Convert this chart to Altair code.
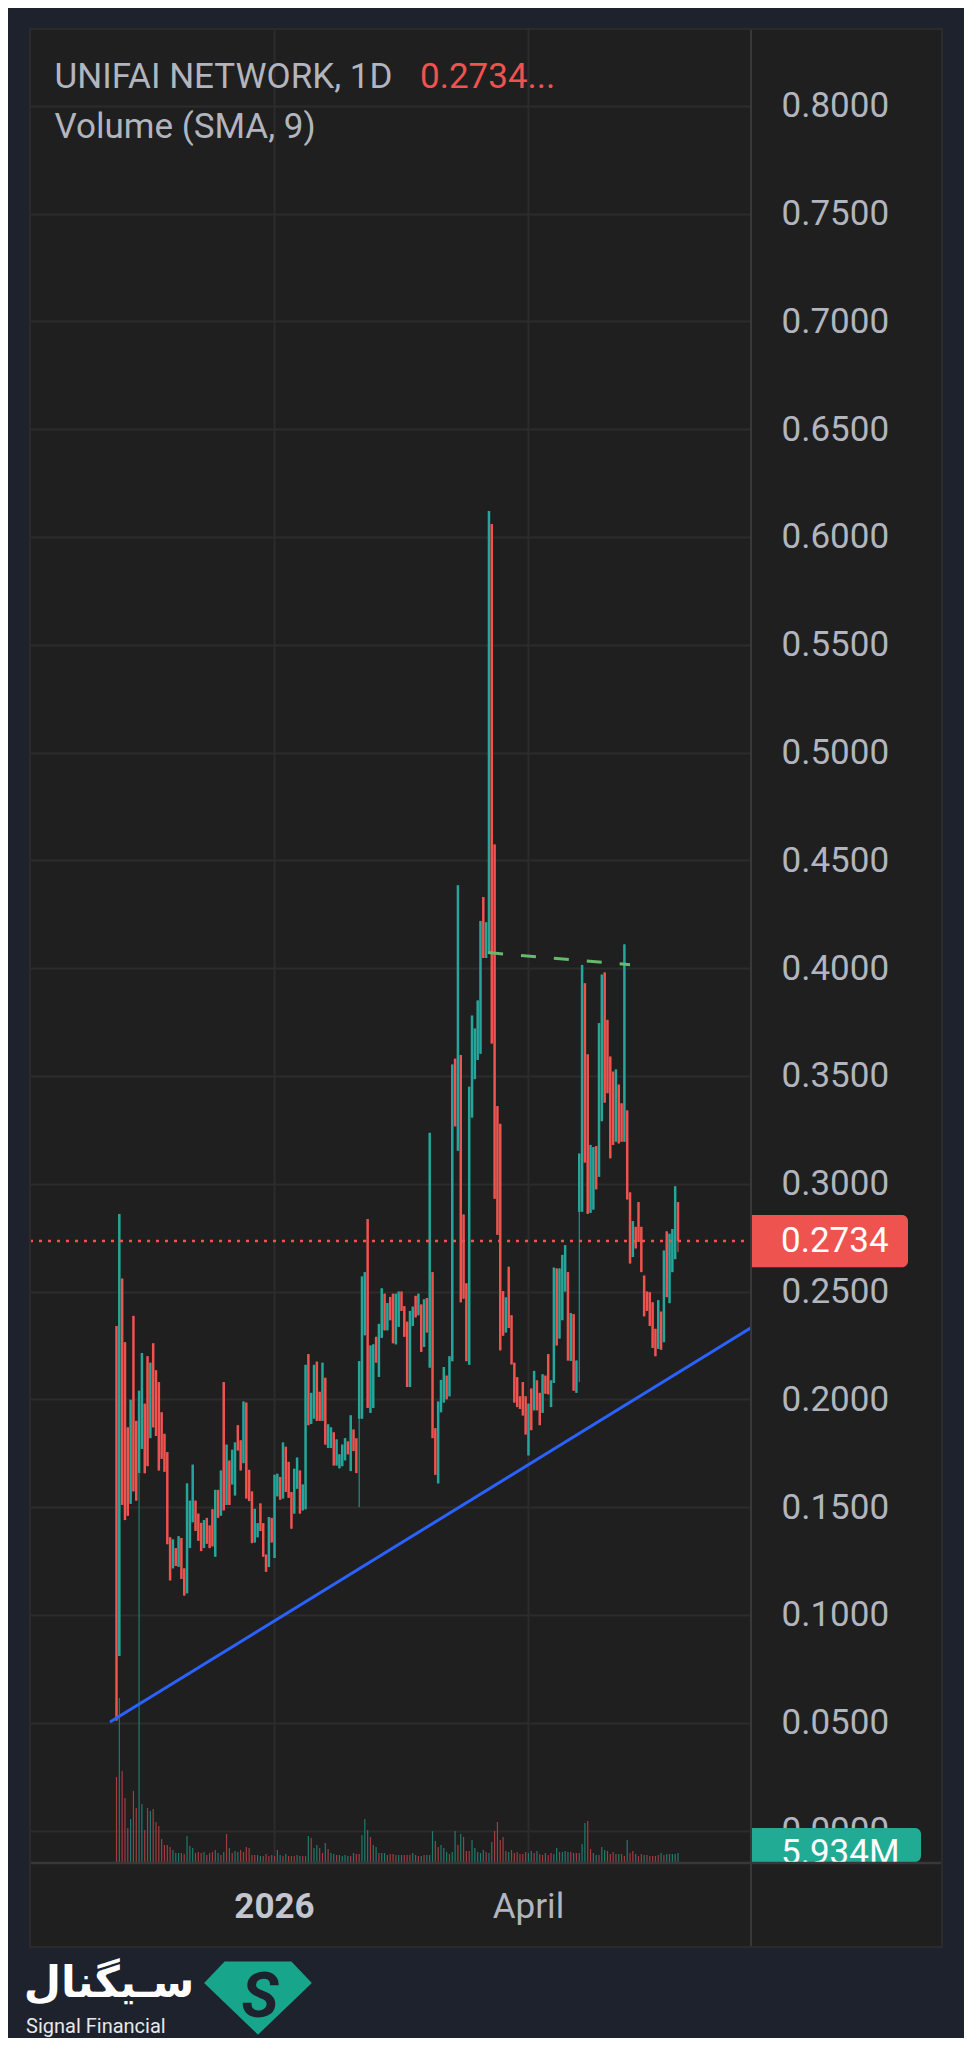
import altair as alt
import pandas as pd

# ---------------- data (daily candles) ----------------
up_1 = [0,1,0,0,0,1,0,0,1,1,0,0,1,0,0,0,0,0,0,0,1,0,1,0,0,1,1,1,0,0,0,1,0,0,0,1,0]
top_1 = [.234,.286,.256,.2265,.187,.1998,.2387,.19,.204,.2215,.198,.220,.217,.226,.2135,.208,.194,.184,.1755,.136,
         .135,.131,.1365,.1357,.1216,.161,.153,.1697,.153,.147,.1427,.144,.145,.1415,.149,.158,.158]
bot_1 = [.051,.081,.151,.144,.146,.1515,.1573,.153,.1657,.177,.1657,.169,.182,.187,.183,.167,.1724,.1664,.1328,.116,
         .1216,.1227,.1223,.1167,.109,.110,.131,.143,.139,.1344,.1296,.131,.133,.131,.1318,.127,.145]

up_2 = [1,0,1,0,1,1,0,0,1,0,0,0,1,1,0,0,0,1,0,1,1,0,1,0,0,0,1,1,0,1,1,0,1,1,0,0,1]
top_2 = [.167,.208,.179,.1716,.1766,.18,.188,.181,.199,.1985,.1673,.1573,.1492,.1426,.1517,.1426,.128,.1454,.145,.165,
         .1655,.164,.180,.178,.171,.157,.1678,.173,.167,.1605,.216,.221,.203,.216,.2175,.2035,.217]
bot_2 = [.146,.1485,.151,.151,.1605,.1554,.1763,.167,.1704,.154,.1528,.1333,.1336,.136,.1389,.127,.120,.1222,.1336,.1264,
         .155,.1534,.154,.157,.1543,.140,.147,.1585,.147,.1485,.149,.188,.1886,.191,.19,.19,.19]

up_3 = [0,1,1,0,1,1,1,1,0,1,0,0,1,1,1,0,1,1,0,1,1,0,1,0,0,1,1,0,0,0,1,1,0,1,0,1,0]
top_3 = [.21,.1884,.187,.1847,.1814,.1745,.179,.182,.1805,.1926,.186,.1819,.2177,.257,.259,.2836,.225,.2255,.229,.235,
         .2515,.249,.2447,.2475,.249,.249,.250,.250,.2432,.236,.241,.243,.248,.249,.244,.2464,.247]
bot_3 = [.179,.1774,.1774,.1693,.1693,.168,.169,.1717,.1745,.1667,.176,.1658,.191,.191,.2297,.196,.1937,.196,.217,.2104,
         .2285,.232,.232,.2367,.226,.2255,.2336,.241,.229,.2057,.2057,.234,.238,.239,.222,.2243,.231]

up_4 = [1,0,0,1,1,1,0,1,1,0,1,0,0,0,1,1,1,1,1,0,1,1,0,0,0,0,0,1,0,0,0,0,0,0,0,1,0]
top_4 = [.3236,.259,.1866,.199,.209,.215,.211,.22,.3553,.358,.4384,.3597,.2857,.2538,.345,.378,.372,.385,.4219,.433,
         .4213,.612,.606,.4574,.336,.3278,.2502,.2473,.2615,.239,.217,.2103,.2014,.208,.2014,.198,.205]
bot_4 = [.2147,.182,.165,.161,.194,.1985,.20,.2014,.2177,.3266,.3153,.245,.2467,.2177,.216,.3307,.3485,.3574,.3603,.4047,
         .4047,.4065,.365,.293,.2763,.2227,.2295,.231,.2331,.2162,.1985,.1964,.1955,.1925,.1837,.174,.1857]

up_5 = [1,0,0,1,0,0,1,1,0,1,1,1,0,1,0,1,1,1,0,0,1,1,0,1,1,0,0,0,0,1,0,0,1,0,0,1,0,0,0,0,0,0,0,0,1,0,1,0,1,1,1,0]
top_5 = [.2132,.2088,.203,.2116,.211,.221,.2088,.2611,.2607,.2607,.267,.2715,.259,.240,.2395,.218,.314,.4015,.393,.360,
         .318,.317,.3175,.3745,.397,.398,.376,.359,.352,.353,.346,.3373,.411,.334,.296,.2827,.280,.2915,.280,.2574,
         .250,.2497,.245,.2327,.246,.2407,.269,.2779,.2768,.279,.2988,.2915]
bot_5 = [.1949,.1949,.188,.1937,.2026,.2023,.1964,.2076,.225,.2282,.2367,.25,.218,.2178,.204,.203,.287,.287,.3098,.286,
         .2865,.288,.2974,.3032,.329,.3376,.342,.3118,.318,.3195,.3187,.3195,.3195,.2927,.263,.266,.27,.273,.259,.2385,
         .241,.234,.2238,.22,.2234,.223,.2265,.2474,.2446,.259,.265,.2734]

wick_low = {86: 0.150, 164: 0.208, 199: 0.2683}

# volume (millions) and its direction
vol_1 = [56.0,108.1,60.0,42.2,22.4,28.3,46.8,35.6,255.8,38.2,
         21.1,35.6,33.6,34.9,26.4,23.7,15.2,11.2,11.2,9.89,
         7.91,5.93,5.93,5.93,5.27,17.1,10.5,9.23,5.93,6.59,
         5.93,6.59,4.62,5.93,6.59,7.91,5.93,4.62,6.59,18.5,
         9.23,5.93,7.25,6.59,7.91,6.59,9.89,9.23,4.62,4.62,
         4.62,3.96,3.96,5.27,3.96,4.62,3.96,7.91,4.62,3.96,
         5.27,3.96,3.96,3.96,4.62,3.96,3.96,3.96,17.1,15.8,
         9.23,11.2,9.23,5.93,12.5,8.57,5.93,5.27,4.62,4.62,
         3.96,4.62,3.96,3.96,5.93,5.27,5.27,17.8,28.3,21.1,
         16.5,11.2,9.89,5.93,5.93,5.93,4.62,5.27,5.27,4.62]
vol_2 = [4.62,4.62,4.62,4.62,4.62,5.93,4.62,3.96,3.96,4.62,
         4.62,4.62,20.4,13.8,9.89,11.2,9.23,6.59,5.27,6.59,
         20.4,11.2,18.5,16.5,7.25,7.25,14.5,9.23,6.59,5.93,
         7.91,6.59,5.93,13.2,20.4,26.4,14.5,16.5,7.25,6.59,
         7.91,5.93,6.59,5.27,5.27,6.59,5.93,7.25,5.93,7.25,
         5.27,4.62,5.93,4.62,5.93,5.27,9.23,6.59,6.59,7.25,
         6.59,6.59,5.93,5.93,5.93,11.9,25.7,27.0,8.57,5.93,
         4.62,4.62,9.89,7.91,7.25,5.27,6.59,5.27,5.27,5.27,
         3.96,14.5,5.93,7.25,5.27,3.96,5.27,4.62,4.62,3.96,
         3.96,3.96,4.62,5.93,4.62,5.27,5.27,5.27,5.27,5.934]
vol_up_1 = [0,1,0,0,0,1,0,0,1,1, 0,0,1,0,0,0,0,0,0,0, 1,1,1,0,0,1,1,1,0,0, 0,1,0,0,0,1,1,0,1,0,
            1,0,1,1,0,0,0,0,0,0, 1,1,0,0,0,1,0,1,1,0, 1,0,0,0,1,1,0,0,1,0, 1,1,0,0,1,0,1,1,0,1,
            1,1,1,0,1,0,0,1,1,1, 0,1,1,0,1,1,0,0,0,0]
vol_up_2 = [1,1,0,0,0,1,1,0,1,0, 1,1,1,0,0,1,1,1,0,1, 1,0,1,0,0,0,1,1,1,1, 1,0,1,1,0,0,0,0,0,1,
            0,0,0,0,0,0,1,1,0,1, 0,0,1,0,0,1,1,0,1,1, 1,0,1,0,1,1,1,0,0,1, 1,0,1,1,0,0,0,0,1,0,
            0,1,0,0,1,0,0,1,0,0, 0,0,0,1,0,1,1,1,1,1]

trend_idx = [-2.3, 225.3]
trend_price = [0.0503, 0.2336]
res_idx = [131.7, 182.0]
res_price = [0.4072, 0.4016]

price_ticks = [0.0, 0.05, 0.1, 0.15, 0.2, 0.25, 0.3, 0.35, 0.4, 0.45, 0.5, 0.55, 0.6, 0.65, 0.7, 0.75, 0.8]
time_ticks = [56, 146]
time_labels = ["2026", "April"]
time_bold = [1, 0]

# ---------------- build tables ----------------
up = up_1 + up_2 + up_3 + up_4 + up_5
top = top_1 + top_2 + top_3 + top_4 + top_5
bot = bot_1 + bot_2 + bot_3 + bot_4 + bot_5
rows = []
for i in range(len(up)):
    o, c = (bot[i], top[i]) if up[i] else (top[i], bot[i])
    rows.append({"idx": i, "o": o, "c": c, "hi": top[i], "lo": wick_low.get(i, bot[i]), "up": up[i]})
cdf = pd.DataFrame(rows)
last_price = cdf["c"].iloc[-1]

vol = vol_1 + vol_2
vol_up = vol_up_1 + vol_up_2
vdf = pd.DataFrame({"idx": list(range(len(vol))), "v": vol, "up": vol_up})
last_vol = vol[-1]

tdf = pd.DataFrame({"t": time_ticks, "lab": time_labels, "bold": time_bold})

# ---------------- style ----------------
W, H = 721, 1833
X_DOMAIN = [-30.66, 224.87]
P_DOMAIN = [-0.0146, 0.8356]
V_DOMAIN = [0, 1208.5]
UP, DOWN = "#26a69a", "#ef5350"
VUP, VDOWN = "#1f7a6f", "#a23d3f"
TXT = "#b2b5be"
GRID = "#2c2c2c"
SEP = "#383838"
PANEL = "#1f1f1f"
NAVY = "#1e222d"
FONT = "Roboto"

xs = alt.Scale(domain=X_DOMAIN, nice=False, zero=False)
ps = alt.Scale(domain=P_DOMAIN, nice=False, zero=False)
vs = alt.Scale(domain=V_DOMAIN, nice=False, zero=False)


def X(f):
    return alt.X(f, type="quantitative", scale=xs, axis=None)


def P(f):
    return alt.Y(f, type="quantitative", scale=ps, axis=None)


def V(f):
    return alt.Y(f, type="quantitative", scale=vs, axis=None)


one = pd.DataFrame({"k": [0]})

y_axis = alt.Axis(orient="right", values=price_ticks, format=".4f", labelFont=FONT, labelFontSize=35,
                  labelColor=TXT, labelPadding=30, labelAlign="left", labelBaseline="middle",
                  ticks=False, tickSize=0, domain=False, grid=True, gridColor=GRID, gridWidth=2,
                  title=None, labelOverlap=False, labelFlush=False)

cond = alt.condition("datum.up == 1", alt.value(UP), alt.value(DOWN))
vcond = alt.condition("datum.up == 1", alt.value(VUP), alt.value(VDOWN))

# vertical grid + time labels (through the x scale)
vgrid = alt.Chart(tdf).mark_rule(color=GRID, strokeWidth=2).encode(
    x=X("t"), y=alt.value(0), y2=alt.value(H))
tlab_bold = alt.Chart(tdf).transform_filter("datum.bold == 1").mark_text(
    font=FONT, fontSize=35, color="#c3c6ce", fontWeight="bold", align="center", baseline="alphabetic").encode(
    x=X("t"), y=alt.value(1889), text="lab:N")
tlab_norm = alt.Chart(tdf).transform_filter("datum.bold == 0").mark_text(
    font=FONT, fontSize=35, color=TXT, fontWeight="normal", align="center", baseline="alphabetic").encode(
    x=X("t"), y=alt.value(1889), text="lab:N")

volume = alt.Chart(vdf).mark_rule(strokeWidth=1.2).encode(
    x=X("idx"), y=V("v"), y2=alt.datum(0), color=vcond)

wicks = alt.Chart(cdf).mark_rule(strokeWidth=1).encode(
    x=X("idx"),
    y=alt.Y("hi:Q", scale=ps, axis=y_axis),
    y2="lo:Q", color=cond)

bodies = alt.Chart(cdf).mark_rule(strokeWidth=2.5).encode(
    x=X("idx"), y=P("o"), y2="c:Q", color=cond)

trend = alt.Chart(pd.DataFrame({"idx": trend_idx, "p": trend_price})).mark_line(
    color="#2962ff", strokeWidth=3, clip=True).encode(x=X("idx"), y=P("p"))

res = alt.Chart(pd.DataFrame({"idx": res_idx, "p": res_price})).mark_line(
    color="#66bb6a", strokeWidth=3, strokeDash=[15, 18]).encode(x=X("idx"), y=P("p"))

last_df = pd.DataFrame({"p": [last_price]})
dotted = alt.Chart(last_df).mark_rule(color=DOWN, strokeWidth=2.5, strokeDash=[3, 6]).encode(
    x=alt.value(0), x2=alt.value(W), y=P("p"))

pbox = alt.Chart(last_df).transform_calculate(lo="datum.p - 0.0121", hi="datum.p + 0.0121").mark_rect(
    color=DOWN, cornerRadiusTopRight=6, cornerRadiusBottomRight=6).encode(
    x=alt.value(720), x2=alt.value(878), y=P("lo"), y2="hi:Q")
ptext = alt.Chart(last_df).mark_text(font=FONT, fontSize=35, color="#ffffff", align="left",
                                     baseline="middle").encode(
    x=alt.value(751), y=P("p"), text=alt.Text("p:Q", format=".4f"))

vlast = pd.DataFrame({"v": [last_vol]})
vbox = alt.Chart(vlast).transform_calculate(hi="datum.v + 16.5").mark_rect(
    color="#22ab94", cornerRadiusTopRight=6, cornerRadiusBottomRight=6).encode(
    x=alt.value(720), x2=alt.value(891), y=V("hi"), y2=alt.datum(0))
vtext = alt.Chart(vlast).transform_calculate(lab="format(datum.v, '.3f') + 'M'").mark_text(
    font=FONT, fontSize=35, color="#ffffff", align="left", baseline="middle").encode(
    x=alt.value(751), y=V("v"), text="lab:N")

cover = alt.Chart(one).mark_rect(color=PANEL).encode(
    x=alt.value(W), x2=alt.value(912), y=alt.value(H), y2=alt.value(1918))
hsep = alt.Chart(one).mark_rule(color=SEP, strokeWidth=2.5).encode(
    x=alt.value(0), x2=alt.value(912), y=alt.value(H + 1))
vsep = alt.Chart(one).mark_rule(color=SEP, strokeWidth=2).encode(
    x=alt.value(W), y=alt.value(0), y2=alt.value(1918))
border = alt.Chart(one).mark_rect(filled=False, stroke="#2b2b2b", strokeWidth=2).encode(
    x=alt.value(0), x2=alt.value(912), y=alt.value(0), y2=alt.value(1918))


def frame(x, x2, y, y2):
    return alt.Chart(one).mark_rect(color=NAVY).encode(
        x=alt.value(x), x2=alt.value(x2), y=alt.value(y), y2=alt.value(y2))


frames = [frame(-22, 934, -21, -1), frame(-22, -1, -21, 2009), frame(913, 934, -21, 2009),
          frame(-22, 934, 1919, 2009)]


def label(txt, x, y, size=35, color=TXT, weight="normal", font=FONT, align="left", style="normal"):
    return alt.Chart(one).mark_text(text=txt, font=font, fontSize=size, color=color, fontWeight=weight,
                                    align=align, baseline="alphabetic", fontStyle=style).encode(
        x=alt.value(x), y=alt.value(y))


titles = [
    label("UNIFAI NETWORK, 1D", 24.5, 59),
    label(f"{last_price:.4f}...", 390, 59, color="#f0524f"),
    label("Volume (SMA, 9)", 24.5, 109),
]

GEM = "M -0.62 -0.66 L 0.62 -0.66 L 1 -0.26 L 0 0.7 L -1 -0.26 Z"
gem = alt.Chart(one).mark_point(shape=GEM, size=11600, filled=True, color="#17a58c", opacity=1).encode(
    x=alt.value(228), y=alt.value(1968))
logo = [
    gem,
    label("S", 230, 1988, size=62, color=NAVY, weight="bold", align="center", style="italic"),
    label("سـیگنال", 79, 1968, size=43, color="#ffffff", weight="bold", font="DejaVu Sans", align="center"),
    label("Signal Financial", -4, 2004, size=20, color="#e8e8e8"),
]

chart = alt.layer(
    vgrid, volume, wicks, bodies, trend, res, dotted, pbox, ptext, vbox, vtext,
    cover, hsep, vsep, border, tlab_bold, tlab_norm, *frames, *titles, *logo
).resolve_scale(y="independent").properties(
    width=W, height=H,
    padding={"left": 22, "top": 21, "right": 213, "bottom": 176},
    autosize=alt.AutoSizeParams(type="none"),
    background=PANEL,
).configure_view(strokeWidth=0)

chart.save("out.html", embed_options={"renderer": "svg", "actions": False})
